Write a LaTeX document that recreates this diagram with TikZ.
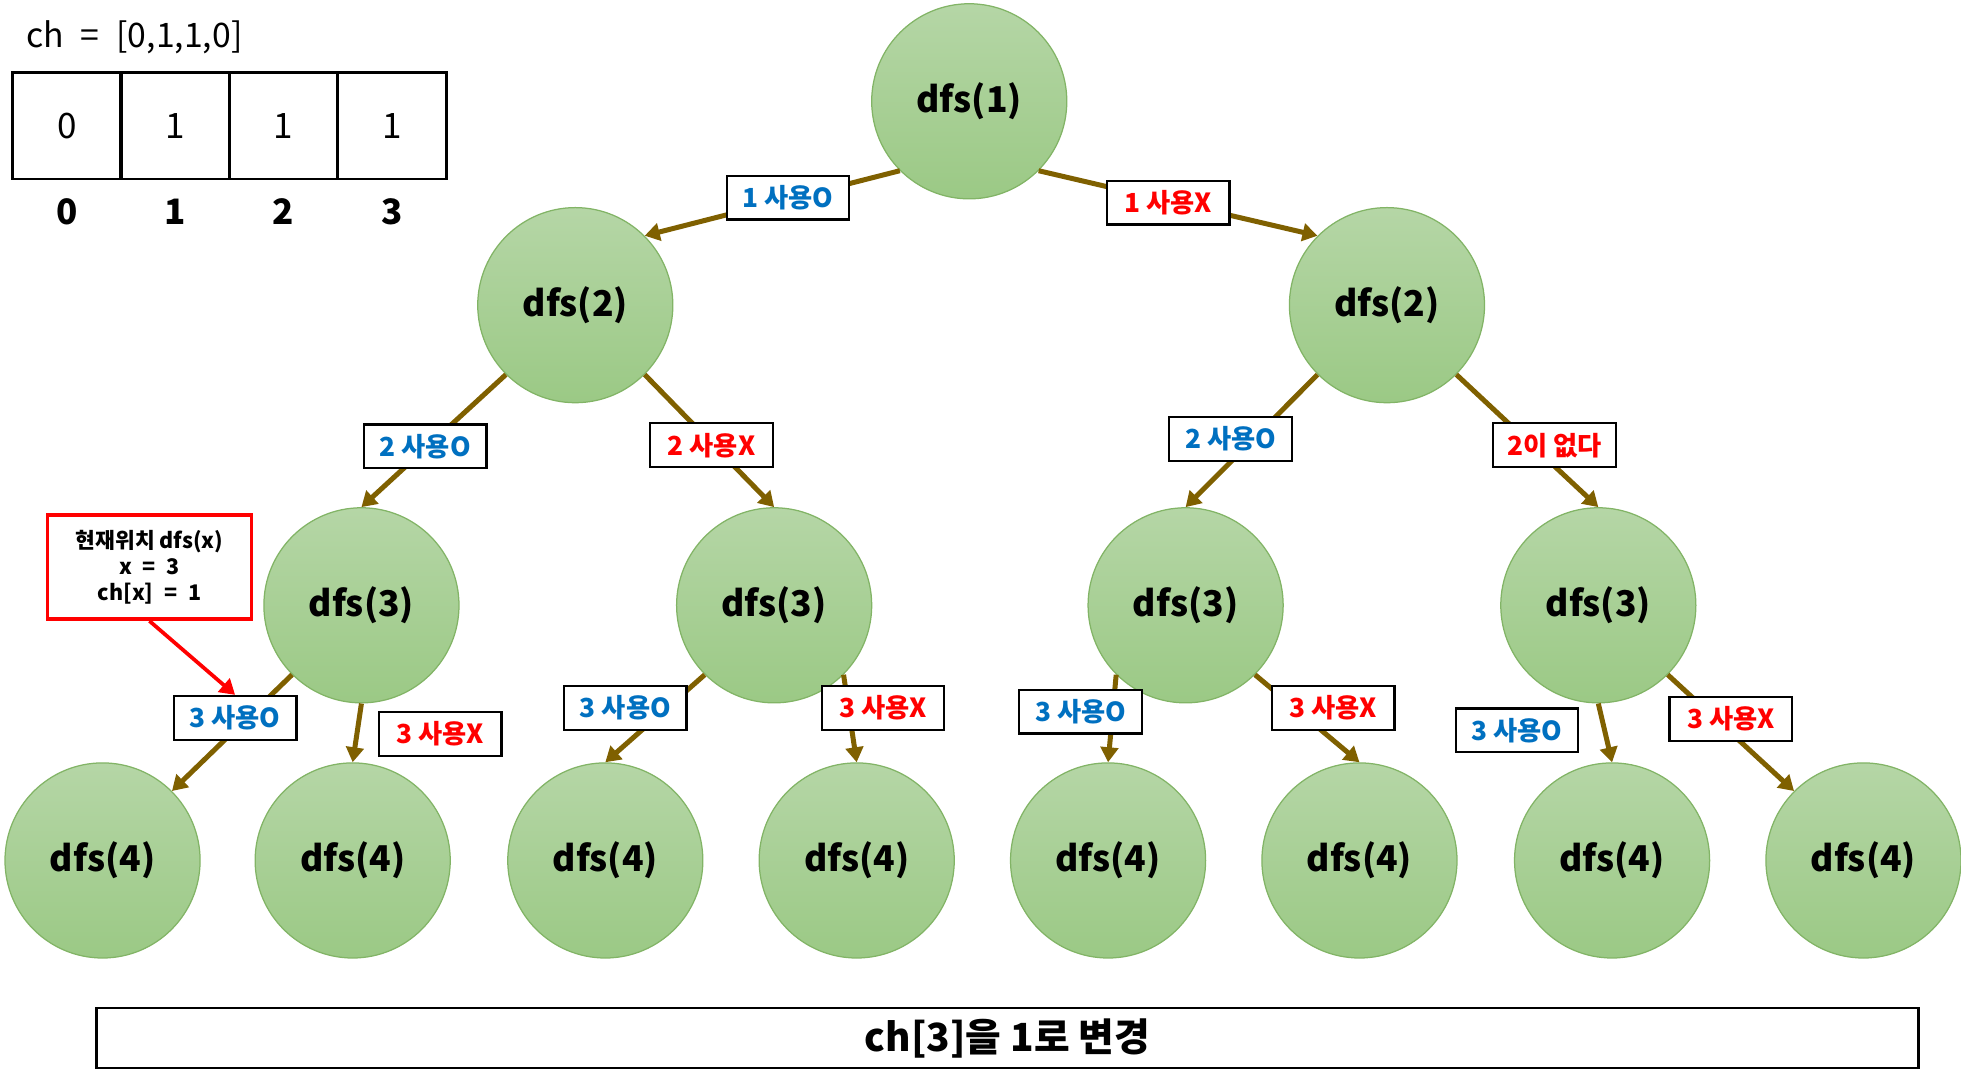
\documentclass[tikz,border=0pt]{standalone}
\usepackage{fontspec}
\setmainfont{Noto Sans CJK KR}
\usetikzlibrary{arrows.meta}
\definecolor{edgec}{HTML}{7F6000}
\definecolor{blu}{HTML}{0070C0}
\definecolor{rd}{HTML}{FF0000}
\definecolor{gtop}{HTML}{B5D6A6}
\definecolor{gbot}{HTML}{9BC985}
\definecolor{gbord}{HTML}{82B466}
\begin{document}
\begin{tikzpicture}[x=0.5pt,y=-0.5pt,
 dnode/.style={circle, minimum size=78pt, inner sep=0pt, top color=gtop, bottom color=gbot, draw=gbord, line width=0.5pt, font=\fontsize{14.2}{17}\selectfont\bfseries},
 edge/.style={draw=edgec, line width=2pt, -{Triangle[length=6pt,width=7pt]}},
 lab/.style={draw=black, fill=white, line width=0.9pt, minimum height=17.5pt, minimum width=49pt, inner xsep=4pt, font=\fontsize{10.5}{12}\selectfont\bfseries},
 labo/.style={lab, text=blu},
 labx/.style={lab, text=rd},
 cell/.style={draw=black, line width=1pt, minimum width=43.5pt, minimum height=42.5pt, inner sep=0pt, font=\fontsize{14}{16}\selectfont},
 idx/.style={font=\fontsize{14}{16}\selectfont\bfseries},
]
\useasboundingbox (0,0) rectangle (1568,867);

% array
\node[anchor=west, font=\fontsize{13.5}{16}\selectfont] (title) at (14,30) {ch\hspace{0.5em}=\hspace{0.5em}[0,1,1,0]};
\node[cell] (c0) at (53.5,100.5) {0};
\node[cell] (c1) at (140,100.5) {1};
\node[cell] (c2) at (226.5,100.5) {1};
\node[cell] (c3) at (313.5,100.5) {1};
\node[idx] (i0) at (53.5,169) {0};
\node[idx] (i1) at (140,169) {1};
\node[idx] (i2) at (226.5,169) {2};
\node[idx] (i3) at (313.5,169) {3};

% tree nodes
\node[dnode] (d1) at (775,81) {dfs(1)};
\node[dnode] (d2a) at (460,244) {dfs(2)};
\node[dnode] (d2b) at (1109,244) {dfs(2)};
\node[dnode] (d3a) at (289,484) {dfs(3)};
\node[dnode] (d3b) at (619,484) {dfs(3)};
\node[dnode] (d3c) at (948,484) {dfs(3)};
\node[dnode] (d3d) at (1278,484) {dfs(3)};
\node[dnode] (d41) at (82,688) {dfs(4)};
\node[dnode] (d42) at (282,688) {dfs(4)};
\node[dnode] (d43) at (484,688) {dfs(4)};
\node[dnode] (d44) at (685,688) {dfs(4)};
\node[dnode] (d45) at (886,688) {dfs(4)};
\node[dnode] (d46) at (1087,688) {dfs(4)};
\node[dnode] (d47) at (1289,688) {dfs(4)};
\node[dnode] (d48) at (1490,688) {dfs(4)};

% edges
\draw[edge] (d1.-135) -- (d2a.45);
\draw[edge] (d1.-45) -- (d2b.135);
\draw[edge] (d2a.-135) -- (d3a.north);
\draw[edge] (d2a.-45) -- (d3b.north);
\draw[edge] (d2b.-135) -- (d3c.north);
\draw[edge] (d2b.-45) -- (d3d.north);
\draw[edge] (d3a.-135) -- (d41.45);
\draw[edge] (d3a.south) -- (d42.north);
\draw[edge] (d3b.-135) -- (d43.north);
\draw[edge] (d3b.-45) -- (d44.north);
\draw[edge] (d3c.-135) -- (d45.north);
\draw[edge] (d3c.-45) -- (d46.north);
\draw[edge] (d3d.south) -- (d47.north);
\draw[edge] (d3d.-45) -- (d48.135);

% labels
\node[labo] (l1o) at (630,158) {1 사용O};
\node[labx] (l1x) at (934,162) {1 사용X};
\node[labo] (l2a) at (340,357) {2 사용O};
\node[labx] (l2b) at (569,356) {2 사용X};
\node[labo] (l2c) at (984,351) {2 사용O};
\node[labx] (l2d) at (1243,356) {2이 없다};
\node[labo] (l3a1) at (188,574) {3 사용O};
\node[labx] (l3a2) at (352,587) {3 사용X};
\node[labo] (l3b1) at (500,566) {3 사용O};
\node[labx] (l3b2) at (706,566) {3 사용X};
\node[labo] (l3c1) at (864,569) {3 사용O};
\node[labx] (l3c2) at (1066,566) {3 사용X};
\node[labo] (l3d1) at (1213,584) {3 사용O};
\node[labx] (l3d2) at (1384,575) {3 사용X};

% info box
\node[draw=rd, line width=1.5pt, minimum width=81.5pt, minimum height=41.5pt, align=center, font=\fontsize{8.6}{10.5}\selectfont\bfseries] (info) at (119.5,453.5) {현재위치 dfs(x)\\x\hspace{0.5em}=\hspace{0.5em}3\\ch[x]\hspace{0.5em}=\hspace{0.5em}1};
\draw[draw=rd, line width=1.5pt, -{Triangle[length=6pt,width=7pt]}] (info.south) -- (l3a1.north);

% bottom box
\node[draw=black, line width=1pt, minimum width=728.5pt, minimum height=24pt, font=\fontsize{15.5}{18}\selectfont\bfseries] (bottom) at (805.5,830) {ch[3]을 1로 변경};
\end{tikzpicture}
\end{document}
